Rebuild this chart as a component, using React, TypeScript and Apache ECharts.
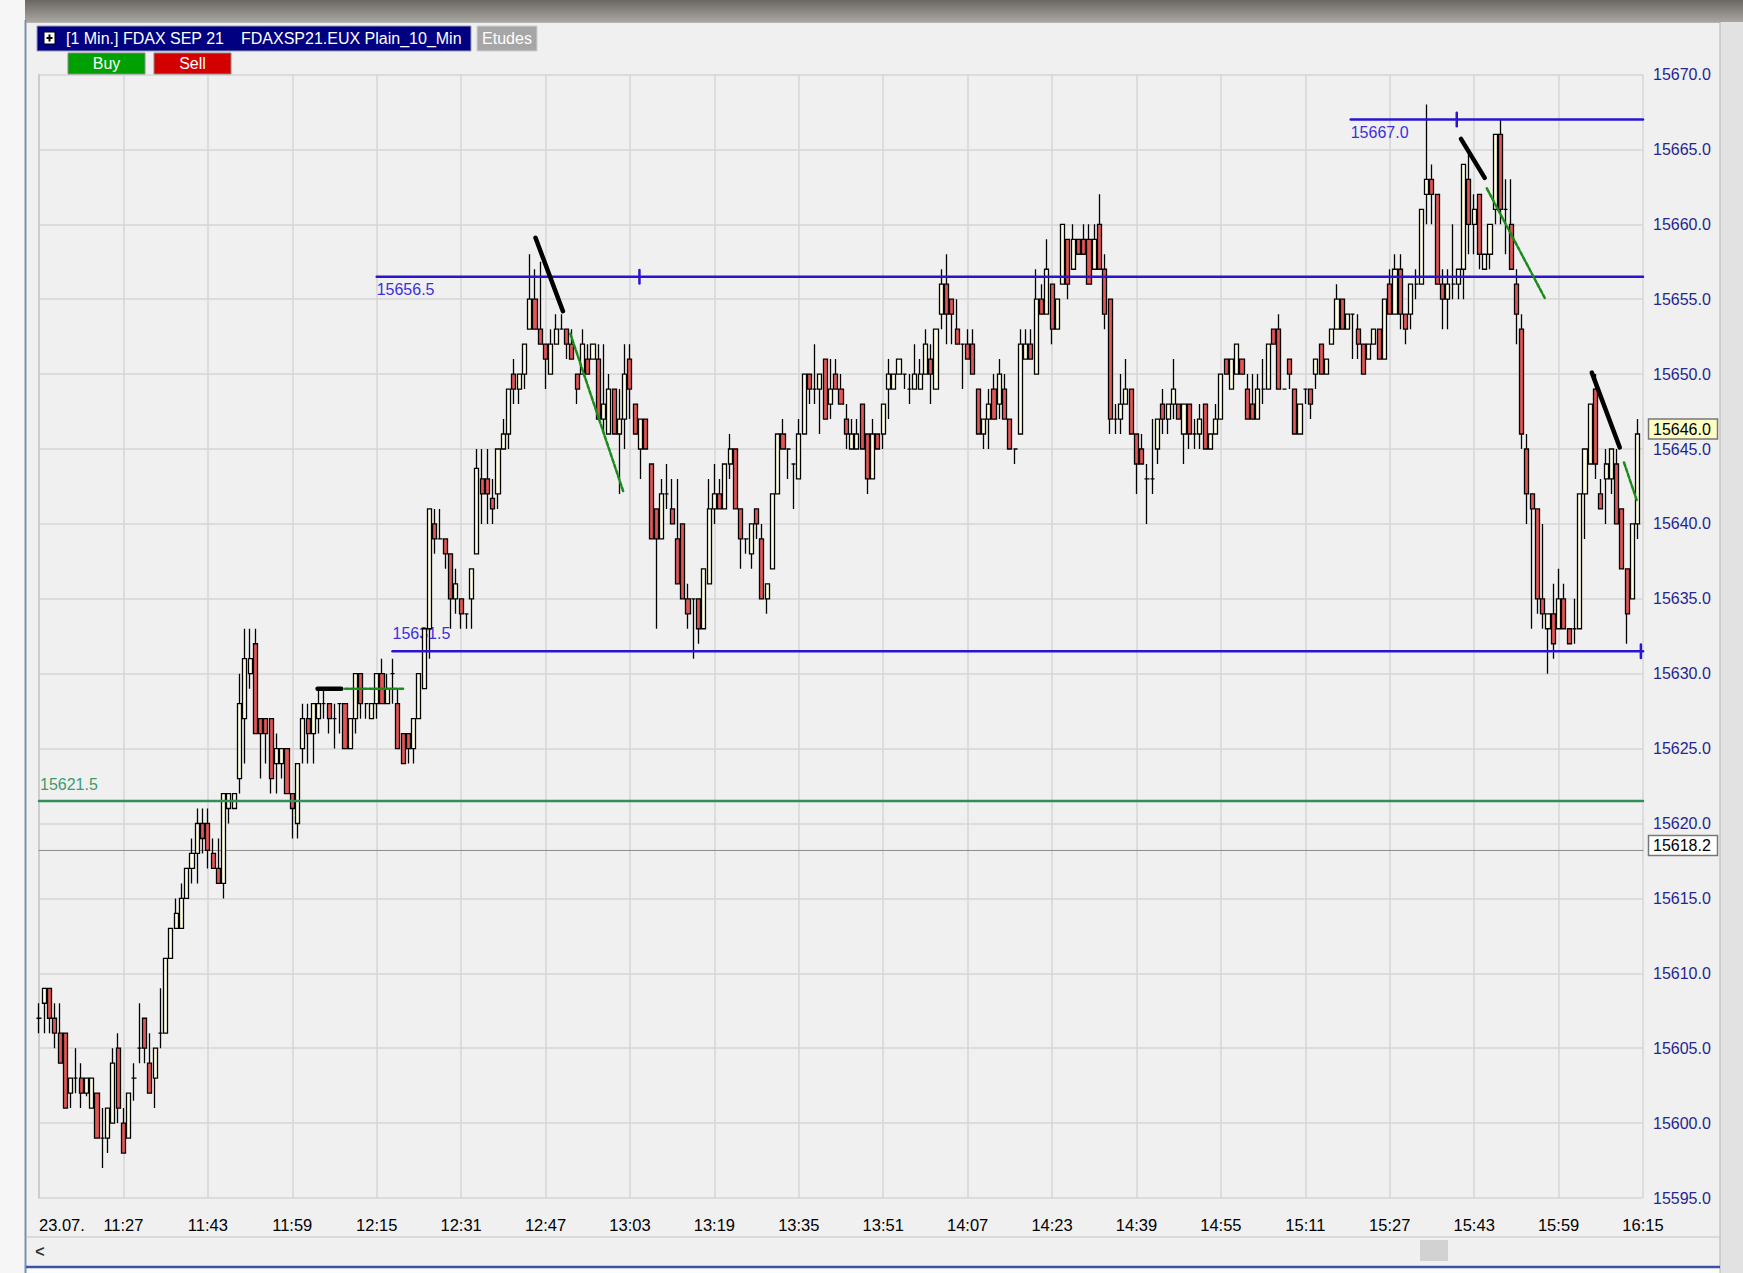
import React, { useEffect, useRef } from "react";
import * as echarts from "echarts";

const FONT = 'Arial, "Liberation Sans", sans-serif';

const startMinute = 11 * 60 + 11;
const barCount = 305;
const categories: string[] = Array.from({ length: barCount }, (_, i) => {
  const t = startMinute + i;
  return `${Math.floor(t / 60)}:${String(t % 60).padStart(2, "0")}`;
});
const dateLabel = "23.07.";
const labelEvery = 16;

const opens = [
  15607, 15608, 15609, 15607, 15606, 15606, 15602, 15603, 15603, 15602,
  15601, 15602, 15599, 15599, 15600, 15605, 15600, 15599, 15603, 15605,
  15607, 15604, 15603, 15606, 15606, 15611, 15613, 15613, 15615, 15617,
  15618, 15620, 15620, 15618, 15617, 15616, 15621, 15621, 15623, 15627,
  15630, 15632, 15627, 15627, 15627, 15624, 15624, 15625, 15622, 15620,
  15625, 15627, 15626, 15627, 15628, 15628, 15627, 15628, 15628, 15625,
  15627, 15630, 15628, 15627, 15628, 15630, 15628, 15630, 15628, 15626,
  15626, 15625, 15627, 15629, 15633, 15640, 15639, 15639, 15638, 15635,
  15635, 15634, 15635, 15638, 15643, 15643, 15641.7, 15642, 15645, 15646,
  15650, 15649, 15650, 15653, 15655, 15653, 15652, 15650, 15652, 15653,
  15653, 15652, 15650, 15650, 15651, 15651, 15651, 15647, 15646, 15649,
  15646, 15647, 15651, 15648, 15645, 15647, 15644, 15641, 15639, 15642,
  15641, 15639, 15640, 15635, 15635, 15635, 15633, 15636, 15641, 15642,
  15641, 15644, 15645, 15641, 15639, 15638, 15641, 15639, 15635, 15637,
  15642, 15646, 15645, 15644, 15643, 15646, 15650, 15649, 15649, 15651,
  15648, 15650, 15649, 15647, 15645, 15645, 15648, 15646, 15643, 15646,
  15646, 15649, 15649, 15650, 15650, 15649, 15649, 15649, 15650, 15651,
  15649, 15654, 15656, 15655, 15653, 15652, 15652, 15652, 15649, 15646,
  15647, 15649, 15648, 15649, 15647, 15645, 15646, 15651, 15652, 15650,
  15655, 15654, 15656, 15653, 15656, 15659, 15657, 15659, 15659, 15659,
  15657, 15660, 15657, 15655, 15647, 15647, 15648, 15649, 15646, 15645,
  15643, 15643, 15645, 15648, 15647, 15648, 15648, 15646, 15648, 15646,
  15646, 15648, 15645, 15646, 15647, 15651, 15649, 15650, 15651, 15649,
  15648, 15647, 15649, 15649, 15653, 15653, 15649, 15651, 15649, 15646,
  15649, 15649, 15650, 15652, 15650, 15652, 15653, 15655, 15653, 15654,
  15653, 15652, 15651, 15652, 15653, 15651, 15656, 15654, 15657, 15654,
  15654, 15656, 15656, 15662, 15663, 15662, 15656, 15655, 15656, 15656,
  15657, 15663, 15660, 15662, 15657, 15658, 15661, 15666, 15661, 15660,
  15656, 15653, 15645, 15642, 15641, 15635, 15633, 15634, 15633, 15635,
  15633, 15633, 15633, 15642, 15644, 15649, 15642, 15643, 15643, 15644,
  15641, 15637, 15635, 15640,
];

const closes = [
  15607, 15609, 15607, 15606, 15604, 15601, 15603, 15603, 15602, 15603,
  15603, 15599, 15599, 15601, 15604, 15601, 15598, 15602, 15603, 15605,
  15605, 15602, 15605, 15606, 15611, 15613, 15614, 15615, 15617, 15618,
  15620, 15619, 15618.2, 15617, 15616, 15622, 15622, 15622, 15628, 15631,
  15631, 15626, 15626, 15626, 15623, 15625, 15625, 15622, 15621, 15624,
  15627, 15626, 15628, 15628, 15628, 15627, 15627, 15628, 15625, 15627,
  15630, 15628, 15628, 15628, 15630, 15628, 15629, 15630, 15625, 15624,
  15625, 15627, 15630, 15633, 15641, 15639, 15639, 15638, 15635, 15636,
  15634, 15634, 15637, 15643.7, 15642, 15642, 15641, 15645, 15646, 15649,
  15649, 15650, 15652, 15655, 15653, 15652, 15651, 15652, 15653, 15653,
  15652, 15651, 15649, 15652, 15650, 15652, 15647, 15648, 15649, 15646,
  15647, 15650, 15649, 15646, 15647, 15645, 15639, 15639, 15642, 15642,
  15640, 15636, 15635, 15634, 15635, 15633, 15637, 15641, 15642, 15641,
  15644, 15645, 15641, 15639, 15639, 15640, 15640, 15635, 15636, 15642,
  15646, 15645, 15645, 15644, 15646, 15650, 15649, 15649, 15650, 15647,
  15649, 15649, 15648, 15646, 15646, 15646, 15645, 15643, 15646, 15645,
  15648, 15650, 15650, 15651, 15650, 15649, 15650, 15650, 15652, 15650,
  15653, 15656, 15654, 15654, 15652, 15652, 15651, 15650, 15646, 15647,
  15648, 15647, 15650, 15647, 15645, 15645, 15652, 15652, 15651, 15655,
  15654, 15657, 15653, 15655, 15660, 15656, 15659, 15658, 15658, 15656,
  15659, 15657, 15654, 15647, 15647, 15648, 15649, 15646, 15644, 15644,
  15643, 15643, 15647, 15647, 15648, 15649, 15647, 15648, 15646, 15646,
  15647, 15645, 15646, 15647, 15650, 15650, 15651, 15652, 15650, 15647,
  15647, 15649, 15649, 15652, 15652, 15649, 15649, 15650, 15646, 15648,
  15649, 15648, 15651, 15650, 15651, 15653, 15655, 15653, 15654, 15654,
  15652, 15650, 15652, 15653, 15651, 15655, 15654, 15657, 15654, 15653,
  15656, 15656, 15661, 15663, 15662, 15656, 15655, 15656, 15656, 15657,
  15664, 15660, 15661, 15658, 15658, 15660, 15666, 15661, 15661, 15657,
  15654, 15646, 15642, 15641, 15635, 15634, 15634, 15632, 15635, 15633,
  15632, 15633, 15642, 15645, 15648, 15644, 15641, 15644, 15645, 15640,
  15637, 15634, 15640, 15646,
];

const lows = [
  15606, 15606, 15606, 15605, 15604, 15601, 15601, 15602, 15601, 15601.8,
  15601, 15599, 15597, 15598, 15600, 15600, 15598, 15599, 15601.5, 15604,
  15604, 15602, 15601, 15605, 15606, 15611, 15613, 15613, 15615, 15616,
  15616, 15618, 15617, 15617, 15616, 15615, 15620, 15621, 15622, 15624,
  15629, 15626, 15623, 15624, 15622, 15622, 15623, 15622, 15619, 15619,
  15624, 15624, 15624, 15626, 15627, 15626, 15625, 15626, 15625, 15625,
  15626, 15627, 15627, 15627, 15627, 15628, 15628, 15628, 15625, 15624,
  15624, 15624, 15627, 15629, 15631, 15638, 15639, 15637, 15633, 15634,
  15633, 15633, 15633, 15638, 15640, 15640, 15640, 15641, 15645, 15645,
  15648, 15648, 15649, 15653, 15653, 15652, 15649, 15650, 15652, 15653,
  15651, 15651, 15648, 15650, 15650, 15651, 15647, 15646, 15646, 15646,
  15642, 15645, 15647, 15646, 15643, 15645, 15639, 15633, 15639, 15641,
  15640, 15636, 15635, 15633, 15631, 15632, 15633, 15636, 15640, 15641,
  15641, 15643, 15641, 15637, 15638, 15637, 15639, 15635, 15634, 15637,
  15642, 15645, 15643, 15641, 15643, 15646, 15648, 15648, 15646, 15647,
  15647, 15649, 15648, 15645, 15645, 15645, 15645, 15642, 15643, 15645,
  15645, 15647, 15649, 15650, 15649, 15648, 15649, 15649, 15650, 15648,
  15649, 15653, 15652, 15652, 15652, 15649, 15651, 15650, 15646, 15645,
  15645, 15647, 15647, 15647, 15645, 15644, 15646, 15651, 15651, 15650,
  15654, 15654, 15652, 15653, 15656, 15655, 15657, 15658, 15658, 15656,
  15657, 15657, 15653, 15646, 15646, 15646, 15648, 15646, 15642, 15644,
  15640, 15642, 15644, 15646, 15646, 15647, 15647, 15644, 15645, 15645,
  15645, 15645, 15645, 15646, 15647, 15650, 15649, 15650, 15650, 15647,
  15647, 15647, 15648, 15649, 15652, 15649, 15649, 15649, 15646, 15646,
  15648, 15647, 15649, 15650, 15650, 15652, 15653, 15653, 15653, 15651,
  15651, 15650, 15651, 15652, 15651, 15651, 15654, 15654, 15653, 15652,
  15653, 15655, 15656, 15660, 15660, 15656, 15653, 15653, 15655, 15655,
  15655, 15658, 15658, 15657, 15657, 15657, 15660, 15660, 15658, 15657,
  15652, 15645, 15640, 15633, 15634, 15633, 15630, 15631, 15633, 15633,
  15632, 15632, 15633, 15639, 15644, 15643, 15641, 15640, 15642, 15640,
  15637, 15632, 15635, 15639,
];

const highs = [
  15608, 15609, 15609, 15608, 15608, 15606, 15603, 15605, 15604, 15603,
  15603, 15602, 15601, 15601, 15605, 15606, 15601, 15602, 15604, 15608,
  15607, 15606, 15605, 15609, 15611, 15613, 15615, 15616, 15617, 15619,
  15621, 15621, 15621, 15619, 15619, 15622, 15622, 15622, 15630, 15633,
  15633, 15633, 15627, 15627, 15627, 15626, 15625, 15625, 15622, 15624,
  15628, 15628, 15628, 15629, 15629, 15628, 15628, 15628, 15628, 15627,
  15630, 15630, 15628, 15628, 15630, 15631, 15630, 15631, 15629, 15626,
  15626, 15627, 15630, 15633, 15641, 15641, 15641, 15639, 15638, 15637,
  15635, 15634, 15637, 15645, 15645, 15645, 15643, 15645, 15647, 15649,
  15651, 15650, 15652, 15658, 15657, 15657.5, 15652, 15653, 15654, 15654,
  15653, 15653, 15650, 15653, 15652, 15652, 15652, 15652, 15650, 15649,
  15649, 15652, 15652, 15648, 15647, 15647, 15644, 15641, 15643, 15644,
  15643, 15643, 15640, 15636, 15635, 15635, 15637, 15643, 15644, 15643,
  15644, 15646, 15645, 15641, 15639, 15640, 15641, 15640, 15636, 15642,
  15646, 15647, 15645, 15644, 15647, 15650, 15650, 15652, 15650, 15651,
  15651, 15651, 15650, 15648, 15647, 15647, 15648, 15646, 15647, 15646,
  15648, 15651, 15650, 15651, 15650, 15650, 15652, 15651, 15653, 15652,
  15653, 15657, 15658, 15655, 15655, 15652, 15653, 15653, 15649, 15647,
  15649, 15650, 15651, 15650, 15647, 15645, 15653, 15653, 15653, 15657,
  15656, 15659, 15656, 15655, 15660, 15659, 15660, 15659, 15660, 15660,
  15660, 15662, 15658, 15655, 15648, 15650, 15651, 15649, 15646, 15646,
  15644, 15647, 15647, 15649, 15648, 15651, 15648, 15648, 15648, 15647,
  15648, 15648, 15646, 15648, 15650, 15651, 15651, 15652, 15651, 15650,
  15650, 15650, 15651, 15652, 15653, 15654, 15649, 15651, 15649, 15648,
  15649, 15649, 15651, 15652, 15651, 15653, 15656, 15655, 15654, 15654,
  15654, 15652, 15652, 15653, 15653, 15655, 15657, 15658, 15658, 15654,
  15656, 15657, 15661, 15668, 15664, 15662, 15657, 15657, 15660, 15657,
  15664, 15665, 15662, 15662, 15658, 15660, 15666, 15667, 15663, 15663,
  15657, 15654, 15646, 15642, 15641, 15640, 15634, 15636, 15637, 15636,
  15633, 15635, 15642, 15645, 15648, 15650, 15643, 15645, 15645, 15645,
  15641, 15637, 15640, 15647,
];

const yMin = 15595;
const yMax = 15670;
const yStep = 5;

const lastPrice = 15646.0;
const refPrice = 15618.2;
const greenLevel = 15621.5;

const blueLevels = [
  { price: 15656.5, from: 64, tick: 113.8, labelBelow: true },
  { price: 15631.5, from: 67, tick: 303.6, labelBelow: false },
  { price: 15667.0, from: 248.6, tick: 268.7, labelBelow: true },
];

const blackSegments: number[][][] = [
  [[94.1, 15659.1], [99.3, 15654.2]],
  [[52.8, 15629.0], [57.3, 15629.0]],
  [[269.5, 15665.7], [274.0, 15663.1]],
  [[294.3, 15650.1], [299.6, 15645.1]],
];
const greenSegments: number[][][] = [
  [[100.7, 15652.7], [110.8, 15642.1]],
  [[58.0, 15629.0], [69.0, 15629.0]],
  [[274.4, 15662.4], [285.5, 15655.0]],
  [[300.4, 15644.1], [302.8, 15641.6]],
];

const BLUE = "#2a14d2";
const BLUE_TEXT = "#3d30da";

function lineSeries(pts: number[][], color: string, width: number, type: any = "solid", z = 4) {
  return {
    type: "line",
    xAxisIndex: 1,
    yAxisIndex: 0,
    data: pts,
    symbol: "none",
    silent: true,
    clip: false,
    z,
    lineStyle: { color, width, type, cap: "round" },
  };
}

export default function App() {
  const ref = useRef<HTMLDivElement>(null);

  useEffect(() => {
    document.body.style.margin = "0";
    const chart = echarts.init(ref.current!, undefined, { renderer: "svg" });
    const last = barCount - 1;

    const series: any[] = [
      {
        type: "candlestick",
        xAxisIndex: 0,
        yAxisIndex: 0,
        data: opens.map((o, i) => [o, closes[i], lows[i], highs[i]]),
        barWidth: 4.6,
        clip: false,
        z: 3,
        itemStyle: {
          color: "#fffde2",
          color0: "#e45656",
          borderColor: "#000",
          borderColor0: "#000",
          borderWidth: 1.3,
        },
      },
      lineSeries([[0, refPrice], [last, refPrice]], "#8a8a8a", 1, "solid", 2),
      lineSeries([[0, greenLevel], [last, greenLevel]], "#2f8f57", 2.5, "solid", 4),
    ];
    blueLevels.forEach((b) => {
      series.push(lineSeries([[b.from, b.price], [last, b.price]], BLUE, 2.5, "solid", 4));
      series.push(lineSeries([[b.tick, b.price - 0.45], [b.tick, b.price + 0.45]], BLUE, 2.5, "solid", 4));
    });
    blackSegments.forEach((s) => series.push(lineSeries(s, "#000", 4.5, "solid", 5)));
    greenSegments.forEach((s) => series.push(lineSeries(s, "#1a8c1a", 2.5, [4, 2], 5)));

    chart.setOption({
      animation: false,
      backgroundColor: "transparent",
      grid: { left: 39, right: 100, top: 74.5, bottom: 75, containLabel: false },
      xAxis: [
        {
          type: "category",
          data: categories,
          boundaryGap: false,
          axisLine: { show: false },
          axisTick: { show: false },
          axisLabel: {
            interval: labelEvery - 1,
            formatter: (v: string, i: number) => (i === 0 ? dateLabel : v),
            color: "#000",
            fontSize: 16.5,
            fontFamily: FONT,
            margin: 18,
            alignMinLabel: "left",
          },
          splitLine: { show: true, interval: labelEvery - 1, lineStyle: { color: "#d6d6d6", width: 1.5 } },
        },
        { type: "value", min: 0, max: last, show: false },
      ],
      yAxis: {
        type: "value",
        position: "right",
        min: yMin,
        max: yMax,
        interval: yStep,
        axisLine: { show: true, lineStyle: { color: "#c8c8c8", width: 1.5 } },
        axisTick: { show: false },
        axisLabel: {
          formatter: (v: number) => v.toFixed(1),
          color: "#26268f",
          fontSize: 16,
          fontFamily: FONT,
          margin: 10,
        },
        splitLine: { lineStyle: { color: "#d6d6d6", width: 1.5 } },
      },
      series,
    });

    const px = (x: number) => chart.convertToPixel({ xAxisIndex: 1 } as any, x) as number;
    const py = (y: number) => chart.convertToPixel({ yAxisIndex: 0 } as any, y) as number;

    const txt = (text: string, x: number, y: number, fill: string, size: number, align = "left", vAlign = "middle", z = 1, weight = "normal") => ({
      type: "text",
      z,
      silent: true,
      style: {
        text,
        x,
        y,
        fill,
        font: `${weight} ${size}px ${FONT}`,
        align,
        verticalAlign: vAlign,
        textAlign: align,
        textVerticalAlign: vAlign,
      },
    });

    const graphic: any[] = [
      // outer frame
      {
        type: "rect",
        z: -10,
        shape: { x: 0, y: 0, width: 1743, height: 22 },
        style: {
          fill: new echarts.graphic.LinearGradient(0, 0, 0, 1, [
            { offset: 0, color: "#6b6660" },
            { offset: 1, color: "#a9a6a2" },
          ]),
        },
      },
      { type: "rect", z: -10, shape: { x: 0, y: 0, width: 25, height: 1273 }, style: { fill: "#f6f6f6" } },
      { type: "line", z: -9, shape: { x1: 25.5, y1: 20, x2: 25.5, y2: 1273 }, style: { stroke: "#7d8fae", lineWidth: 2 } },
      { type: "rect", z: -10, shape: { x: 1720, y: 22, width: 23, height: 1251 }, style: { fill: "#e2e2e2" } },
      { type: "line", z: -9, shape: { x1: 1720, y1: 22, x2: 1720, y2: 1273 }, style: { stroke: "#b4b4b4", lineWidth: 1 } },
      { type: "line", z: -9, shape: { x1: 26, y1: 22.5, x2: 1720, y2: 22.5 }, style: { stroke: "#b4b4b4", lineWidth: 1 } },
      // scrollbar
      { type: "line", z: -9, shape: { x1: 26, y1: 1237, x2: 1720, y2: 1237 }, style: { stroke: "#c4c4c4", lineWidth: 1 } },
      txt("<", 40, 1251, "#333", 16, "center", "middle", 1, "bold"),
      { type: "rect", z: -8, shape: { x: 1420, y: 1240, width: 28, height: 21 }, style: { fill: "#d2d2d2" } },
      { type: "line", z: -9, shape: { x1: 26, y1: 1267, x2: 1720, y2: 1267 }, style: { stroke: "#3a52a8", lineWidth: 2.5 } },
      { type: "rect", z: -10, shape: { x: 26, y: 1268, width: 1694, height: 5 }, style: { fill: "#fbfbfb" } },
      // header
      { type: "rect", z: 10, shape: { x: 37, y: 26, width: 434, height: 25 }, style: { fill: "#000080", stroke: "#9a9ab8", lineWidth: 1 } },
      { type: "rect", z: 11, shape: { x: 44, y: 32, width: 11, height: 12 }, style: { fill: "#fff", stroke: "#000", lineWidth: 1 } },
      { type: "line", z: 12, shape: { x1: 46.5, y1: 38, x2: 52.5, y2: 38 }, style: { stroke: "#000", lineWidth: 2 } },
      { type: "line", z: 12, shape: { x1: 49.5, y1: 34.5, x2: 49.5, y2: 41.5 }, style: { stroke: "#000", lineWidth: 2 } },
      txt("[1 Min.] FDAX SEP 21", 66, 38.5, "#fff", 16, "left", "middle", 12),
      txt("FDAXSP21.EUX Plain_10_Min", 241, 38.5, "#fff", 16, "left", "middle", 12),
      { type: "rect", z: 10, shape: { x: 477, y: 26, width: 60, height: 25 }, style: { fill: "#a6a6a6", stroke: "#d0d0d0", lineWidth: 1 } },
      txt("Etudes", 507, 38.5, "#fff", 16, "center", "middle", 12),
      { type: "rect", z: 10, shape: { x: 68, y: 53, width: 77, height: 21 }, style: { fill: "#00a000", stroke: "#8a8a8a", lineWidth: 1 } },
      txt("Buy", 106.5, 63, "#fff", 16, "center", "middle", 12),
      { type: "rect", z: 10, shape: { x: 154, y: 53, width: 77, height: 21 }, style: { fill: "#d40000", stroke: "#8a8a8a", lineWidth: 1 } },
      txt("Sell", 192.5, 63, "#fff", 16, "center", "middle", 12),
      // level labels
      txt("15621.5", px(0) + 1, py(greenLevel) - 9, "#3f9b6a", 16, "left", "bottom", 1),
    ];

    blueLevels.forEach((b) => {
      graphic.push(
        txt(
          b.price.toFixed(1),
          px(b.from),
          b.labelBelow ? py(b.price) + 5 : py(b.price) - 10,
          BLUE_TEXT,
          16,
          "left",
          b.labelBelow ? "top" : "bottom",
          1
        )
      );
    });

    const priceBox = (value: number, bg: string) => {
      const cy = py(value) - 5;
      graphic.push({
        type: "rect",
        z: 20,
        shape: { x: 1648.5, y: cy - 10, width: 69, height: 20 },
        style: { fill: bg, stroke: "#777", lineWidth: 1.5 },
      });
      graphic.push(txt(value.toFixed(1), 1653, cy + 0.5, "#000", 16, "left", "middle", 21));
    };
    priceBox(lastPrice, "#ffffc4");
    priceBox(refPrice, "#ffffff");

    chart.setOption({ graphic });

    return () => chart.dispose();
  }, []);

  return <div ref={ref} style={{ width: 1743, height: 1273, background: "#f0f0f0" }} />;
}
